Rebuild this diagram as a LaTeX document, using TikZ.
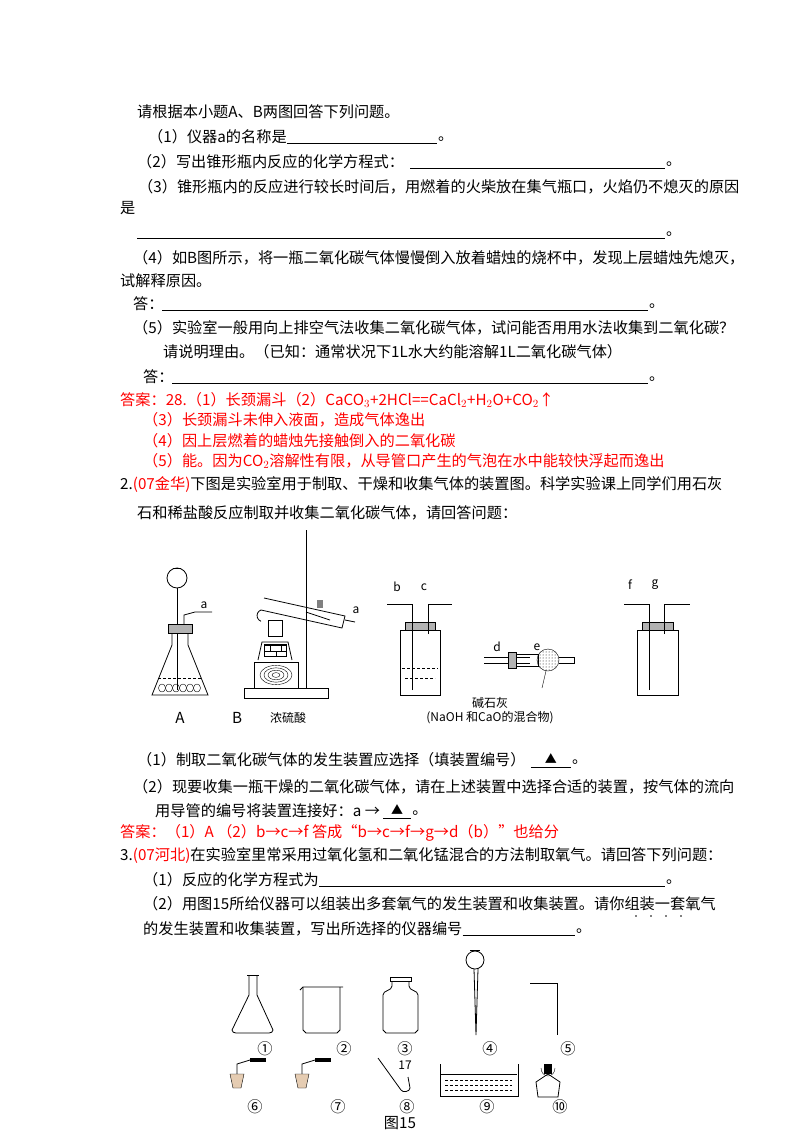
\documentclass[tikz,border=0pt]{standalone}
\usepackage{fontspec}
\setmainfont{Noto Sans CJK SC}
\usetikzlibrary{patterns,calc}
\newcommand{\fs}{\fontsize{15.2}{17}\selectfont}
\newcommand{\fsm}{\fontsize{12}{14}\selectfont}
\tikzset{t/.style={anchor=west,inner sep=0,font=\fs},
 rt/.style={t,text=red},
 lab/.style={inner sep=0,font=\fs},
 sm/.style={inner sep=0,font=\fsm},
 app/.style={draw,line width=0.8pt},
 blank/.style={line width=0.6pt}}
\begin{document}
\begin{tikzpicture}[x=1pt,y=-1pt]
\fill[white] (0,0) rectangle (800,1132);
\useasboundingbox (0,0) rectangle (800,1132);
% ---- text block 1
\node[t] (l1) at (137,112) {请根据本小题A、B两图回答下列问题。};
\node[t] (l2) at (148,137) {（1）仪器a的名称是};
\draw[blank] (l2.east |- 0,143) -- (437,143); \node[t] at (438,139) {。};
\node[t] (l3) at (137,162) {（2）写出锥形瓶内反应的化学方程式：};
\draw[blank] ([xshift=6pt]l3.east |- 0,168)--(665,168); \node[t] at (666,164) {。};
\node[t] (l4) at (138,187) {（3）锥形瓶内的反应进行较长时间后，用燃着的火柴放在集气瓶口，火焰仍不熄灭的原因};
\node[t] (l5) at (120,208) {是};
\draw[blank] (137,238)--(665,238); \node[t] at (666,234) {。};
\node[t] (l6) at (133,258) {（4）如B图所示，将一瓶二氧化碳气体慢慢倒入放着蜡烛的烧杯中，发现上层蜡烛先熄灭，};
\node[t] (l7) at (120,281) {试解释原因。};
\node[t] (l8) at (133,304) {答：};
\draw[blank] (162,310)--(648,310); \node[t] at (649,306) {。};
\node[t] (l9) at (133,328) {（5）实验室一般用向上排空气法收集二氧化碳气体，试问能否用用水法收集到二氧化碳？};
\node[t] (l10) at (163,352) {请说明理由。（已知：通常状况下1L水大约能溶解1L二氧化碳气体）};
\node[t] (l11) at (143,377) {答：};
\draw[blank] (172,383)--(648,383); \node[t] at (649,379) {。};
\node[rt] (a1) at (120,400) {答案：28.（1）长颈漏斗（2）CaCO$_3$+2HCl==CaCl$_2$+H$_2$O+CO$_2$↑};
\node[rt] (a2) at (143,420) {（3）长颈漏斗未伸入液面，造成气体逸出};
\node[rt] (a3) at (143,441) {（4）因上层燃着的蜡烛先接触倒入的二氧化碳};
\node[rt] (a4) at (143,461) {（5）能。因为CO$_2$溶解性有限，从导管口产生的气泡在水中能较快浮起而逸出};
\node[t] (q2) at (120,485) {2.\textcolor{red}{(07金华)}下图是实验室用于制取、干燥和收集气体的装置图。科学实验课上同学们用石灰};
\node[t] (q2b) at (137,513) {石和稀盐酸反应制取并收集二氧化碳气体，请回答问题：};
% ---- figure A
\draw[app] (177,578) circle (10);
\draw[app] (177,588)--(177,690);
\draw[app] (173,568)--(181,568);
\draw[app] (184,625) -- (184,615) -- (195,612) -- (212,612);
\fill[gray!60,draw=black] (168,624) rectangle (192,633);
\draw[app] (172,633)--(172,645)--(152,695)--(208,695)--(188,645)--(188,633);
\draw[densely dashed] (158,678)--(202,678);
\foreach \x in {162,169,176,183,190,197} \draw (\x,688) ellipse (3.5 and 4);
\node[sm] at (204,605) {a};
% ---- figure B
\draw[app] (306,530)--(306,688);
\draw[app] (244,688) rectangle (328,698);
\draw[app] (264,598) -- (345,616) -- (342,628) -- (261,610) arc (250:110:6);
\draw[app] (345,620)--(355,622);
\node[sm] at (356,610) {a};
\fill[gray] (317,600) rectangle (323,608);
\draw[app] (306,612)--(330,620);
\draw[app] (268,620) rectangle (282,636);
\draw[app] (258,660) -- (262,642)--(288,642)--(292,660);
\draw[pattern=bricks] (264,644) rectangle (286,656);
\draw[app] (254,662) rectangle (298,688);
\foreach \r in {4,8,12,16} \draw (276,675) ellipse [x radius=\r, y radius=0.6*\r];
% ---- bottle bc
\draw[app] (400,630) rectangle (440,695);
\fill[gray!60,draw=black] (405,622) rectangle (435,630);
\draw[app] (412,690)--(412,604)--(387,604);
\draw[app] (428,634)--(428,604)--(452,604);
\draw[densely dashed] (402,668)--(438,668);
\draw[densely dashed] (405,678)--(435,678);
\node[sm] at (397,587) {b}; \node[sm] at (424,587) {c};
% ---- drying tube
\draw[app] (484,657)--(530,657); \draw[app] (484,663)--(530,663);
\fill[gray!60,draw=black] (508,652) rectangle (516,668);
\draw[app] (516,654) rectangle (538,666);
\fill[pattern=dots,draw=black] (548,660) circle (11);
\draw[app] (559,657)--(574,657)--(574,663)--(559,663);
\draw (546,671)--(542,688);
\node[sm] at (497,647) {d}; \node[sm] at (537,647) {e};
% ---- bottle fg
\draw[app] (637,630) rectangle (678,695);
\fill[gray!60,draw=black] (642,622) rectangle (673,630);
\draw[app] (649,690)--(649,604)--(624,604);
\draw[app] (664,634)--(664,604)--(690,604);
\node[sm] at (630,585) {f}; \node[sm] at (655,585) {g};
% labels
\node[lab] at (180,718) {A}; \node[lab] at (237,718) {B};
\node[sm] at (288,718) {浓硫酸};
\node[sm] at (490,703) {碱石灰};
\node[sm] at (490,718) {(NaOH 和CaO的混合物)};
% ---- questions
\node[t] (b1) at (137,760) {（1）制取二氧化碳气体的发生装置应选择（填装置编号）};
\draw[blank] ([xshift=5pt]b1.east |- 0,767) coordinate (u1) -- ++(40,0) coordinate (u2);
\node[lab,font=\fsm] at ([yshift=8pt]$(u1)!0.5!(u2)$) {▲};
\node[t] at ([xshift=1pt,yshift=5pt]u2) {。};
\node[t] (b2) at (133,787) {（2）现要收集一瓶干燥的二氧化碳气体，请在上述装置中选择合适的装置，按气体的流向};
\node[t] (b3) at (155,811) {用导管的编号将装置连接好：a →};
\draw[blank] ([xshift=3pt]b3.east |- 0,818) coordinate (v1) -- ++(28,0) coordinate (v2);
\node[lab,font=\fsm] at ([yshift=8pt]$(v1)!0.5!(v2)$) {▲};
\node[t] at ([xshift=1pt,yshift=5pt]v2) {。};
\node[rt] (b4) at (120,833) {答案：（1）A （2）b→c→f 答成“b→c→f→g→d（b）”也给分};
\node[t] (c1) at (120,856) {3.\textcolor{red}{(07河北)}在实验室里常采用过氧化氢和二氧化锰混合的方法制取氧气。请回答下列问题：};
\node[t] (c2) at (143,880) {（1）反应的化学方程式为};
\draw[blank] (c2.east |- 0,886)--(665,886); \node[t] at (666,882) {。};
\node[t] (c3) at (143,904) {（2）用图15所给仪器可以组装出多套氧气的发生装置和收集装置。请你组装一套氧气};
\foreach \x in {636,651,666,681} \fill (\x,916) circle (0.9);
\node[t] (c4) at (143,929) {的发生装置和收集装置，写出所选择的仪器编号};
\draw[blank] (c4.east |- 0,935)--(575,935); \node[t] at (576,931) {。};
% ---- figure 15
\draw[app] (247,975)--(259,975); \draw[app] (249,975)--(249,995)--(232,1030) to[out=-90,in=180] (236,1033) -- (269,1033) to[out=0,in=-90] (273,1030) -- (257,995)--(257,975);
\draw[app] (300,990)--(303,987)--(343,987); \draw[app] (303,987)--(303,1030)--(306,1033)--(337,1033)--(340,1030)--(340,987);
\draw[app] (390,977) rectangle (411,981);
\draw[app] (392,981)--(392,986) to[out=-90,in=90] (383,995) -- (383,1030)--(386,1033)--(415,1033)--(418,1030)--(418,995) to[out=90,in=-90] (409,986)--(409,981);
\draw[app] (475,960) circle (9); \draw[app] (470,950)--(480,950);
\draw[app] (474,969)--(476,1035)--(478,969);
\draw[app] (530,983)--(557,983)--(557,1035);
\foreach \x/\n in {265/①,344/②,405/③,490/④,568/⑤} \node[lab] at (\x,1049) {\n};
\foreach \x in {230,295} {
 \draw[app] (\x+7,1080)--(\x+7,1064)--(\x+20,1060);
 \fill (\x+20,1058) rectangle (\x+36,1062);
 \fill[brown!40,draw=black] (\x,1074) -- (\x+14,1074) -- (\x+11,1088) -- (\x+3,1088) -- cycle;}
\draw[app] (378,1058)--(401,1090) to[out=-60,in=-90] (410,1088) -- (408,1077);
\node[sm] at (405,1065) {17};
\draw[app] (440,1064)--(440,1096)--(518,1096)--(518,1064);
\draw (441,1074)--(517,1074);
\foreach \y in {1080,1085,1090} \draw[densely dashed] (445,\y)--(512,\y);
\draw[app] (538,1097)--(536,1082)--(548,1074)--(560,1082)--(558,1097)--cycle;
\fill (544,1064) rectangle (552,1074);
\draw (541,1068) arc (180:0:7 and 8);
\foreach \x/\n in {255/⑥,338/⑦,407/⑧,487/⑨,560/⑩} \node[lab] at (\x,1107) {\n};
\node[lab] (fig) at (400,1123) {图15};
\end{tikzpicture}
\end{document}
